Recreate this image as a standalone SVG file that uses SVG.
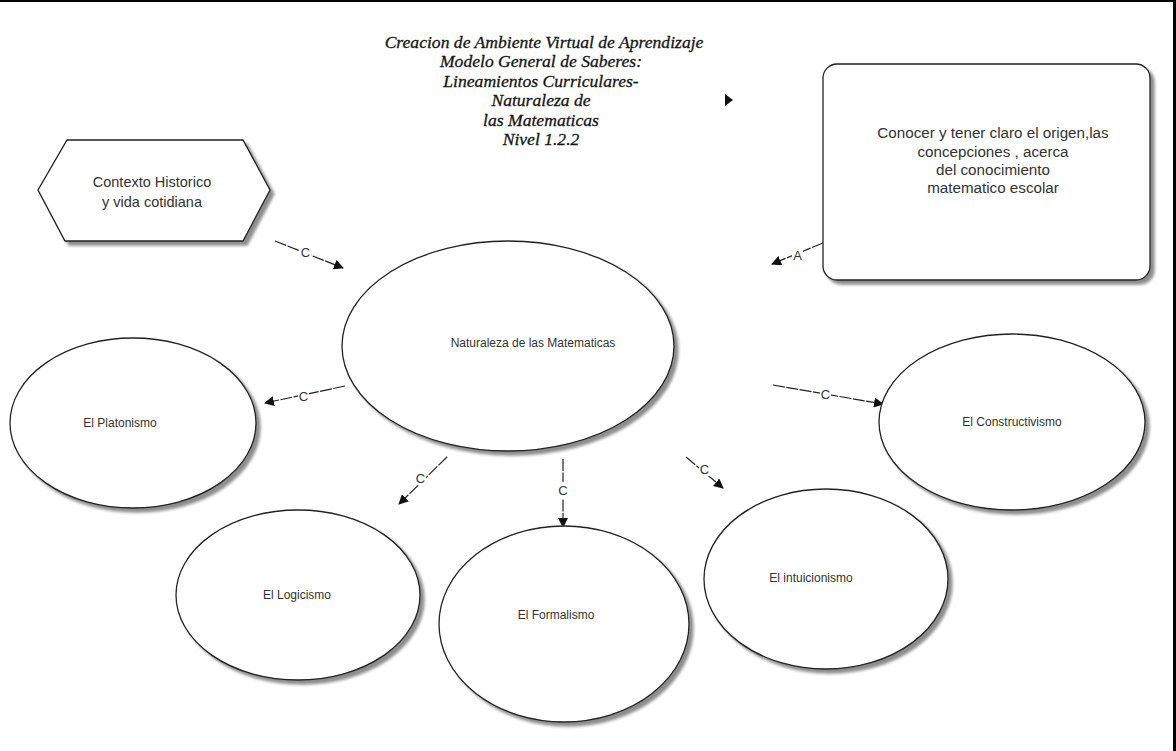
<svg xmlns="http://www.w3.org/2000/svg" width="1176" height="751" viewBox="0 0 1176 751">
  <defs>
    <filter id="shadow" x="-10%" y="-10%" width="125%" height="125%">
      <feGaussianBlur in="SourceAlpha" stdDeviation="1.5"/>
      <feOffset dx="4" dy="4" result="off"/>
      <feComponentTransfer><feFuncA type="linear" slope="0.45"/></feComponentTransfer>
      <feMerge><feMergeNode/><feMergeNode in="SourceGraphic"/></feMerge>
    </filter>
    <marker id="arrow" viewBox="0 0 10 10" refX="9" refY="5" markerWidth="10" markerHeight="10" markerUnits="userSpaceOnUse" orient="auto">
      <path d="M0,0 L10,5 L0,10 Z" fill="#111"/>
    </marker>
  </defs>
  <style>
    .node { fill: #fff; stroke: #222; stroke-width: 1.3; filter: url(#shadow); }
    .lbl { font-family: "Liberation Sans", Arial, sans-serif; font-size: 12px; fill: #333; text-anchor: middle; }
    .big { font-size: 14.5px; }
    .box { font-size: 15.2px; }
    .title { font-family: "Liberation Serif", "Times New Roman", serif; font-style: italic; font-size: 17.6px; fill: #151515; stroke: #151515; stroke-width: 0.3; text-anchor: middle; }
    .conn { stroke: #222; stroke-width: 1.2; fill: none; stroke-dasharray: 12 1.5; }
    .clbl { font-family: "Liberation Sans", Arial, sans-serif; font-size: 13px; fill: #333; text-anchor: middle; }
  </style>

  <rect width="1176" height="751" fill="#fff"/>
  <!-- frame edges -->
  <rect x="0" y="0" width="1176" height="2" fill="#000"/>
  <rect x="1173" y="0" width="3" height="751" fill="#000"/>

  <!-- title -->
  <g id="title">
    <text class="title" x="544" y="48">Creacion de Ambiente Virtual de Aprendizaje</text>
    <text class="title" x="541" y="67">Modelo General de Saberes:</text>
    <text class="title" x="541" y="87">Lineamientos Curriculares-</text>
    <text class="title" x="541" y="106">Naturaleza de</text>
    <text class="title" x="541" y="126">las Matematicas</text>
    <text class="title" x="541" y="145">Nivel 1.2.2</text>
  </g>
  <path d="M725,94 L733,100 L725,106 Z" fill="#111"/>

  <!-- connectors -->
  <g id="connectors">
    <line class="conn" x1="275" y1="241" x2="343" y2="268" marker-end="url(#arrow)"/>
    <line class="conn" x1="823" y1="243" x2="772" y2="264" marker-end="url(#arrow)"/>
    <line class="conn" x1="345" y1="386" x2="265" y2="403" marker-end="url(#arrow)"/>
    <line class="conn" x1="773" y1="385" x2="883" y2="404" marker-end="url(#arrow)"/>
    <line class="conn" x1="447" y1="457" x2="399" y2="504" marker-end="url(#arrow)"/>
    <line class="conn" x1="563" y1="459" x2="563" y2="527" marker-end="url(#arrow)"/>
    <line class="conn" x1="686" y1="457" x2="723" y2="488" marker-end="url(#arrow)"/>
    <!-- label backgrounds and letters -->
    <g fill="#fff">
      <rect x="300" y="244" width="11" height="15"/>
      <rect x="792" y="247" width="11" height="15"/>
      <rect x="298" y="388" width="11" height="15"/>
      <rect x="820" y="386" width="11" height="15"/>
      <rect x="415" y="470" width="11" height="15"/>
      <rect x="557" y="482" width="12" height="16"/>
      <rect x="699" y="461" width="11" height="15"/>
    </g>
    <text class="clbl" x="305.5" y="257">C</text>
    <text class="clbl" x="797.5" y="260">A</text>
    <text class="clbl" x="303.5" y="401">C</text>
    <text class="clbl" x="825.5" y="399">C</text>
    <text class="clbl" x="420.5" y="483">C</text>
    <text class="clbl" x="563" y="495">C</text>
    <text class="clbl" x="704.5" y="474">C</text>
  </g>

  <g id="contexto">
    <polygon class="node" points="67,140 243,140 270,190 243,241 65,241 38,190"/>
    <text class="lbl big" x="152" y="187">Contexto Historico</text>
    <text class="lbl big" x="152" y="207">y vida cotidiana</text>
  </g>

  <g id="conocer">
    <rect class="node" x="823" y="64" width="327" height="216" rx="14"/>
    <text class="lbl box" x="993" y="138">Conocer y tener claro el origen,las</text>
    <text class="lbl box" x="993" y="157">concepciones , acerca</text>
    <text class="lbl box" x="993" y="175">del conocimiento</text>
    <text class="lbl box" x="993" y="193">matematico escolar</text>
  </g>

  <g id="naturaleza">
    <ellipse class="node" cx="508" cy="346" rx="166" ry="105"/>
    <text class="lbl" x="533" y="347">Naturaleza de las Matematicas</text>
  </g>

  <g id="platonismo">
    <ellipse class="node" cx="133" cy="423" rx="123" ry="85"/>
    <text class="lbl" x="120" y="427">El Platonismo</text>
  </g>

  <g id="constructivismo">
    <ellipse class="node" cx="1012" cy="422" rx="133" ry="88"/>
    <text class="lbl" x="1012" y="426">El Constructivismo</text>
  </g>

  <g id="logicismo">
    <ellipse class="node" cx="298" cy="595" rx="122" ry="85"/>
    <text class="lbl" x="297" y="599">El Logicismo</text>
  </g>

  <g id="formalismo">
    <ellipse class="node" cx="564" cy="624" rx="125" ry="98"/>
    <text class="lbl" x="556" y="619">El Formalismo</text>
  </g>

  <g id="intuicionismo">
    <ellipse class="node" cx="826" cy="579" rx="122" ry="90"/>
    <text class="lbl" x="811" y="582">El intuicionismo</text>
  </g>
</svg>
